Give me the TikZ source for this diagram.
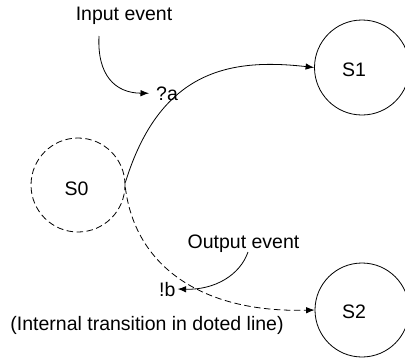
\documentclass[tikz,border=0pt]{standalone}
\usepackage{fontspec}
\setmainfont{Liberation Sans}
\usetikzlibrary{arrows.meta}
\begin{document}
\begin{tikzpicture}[x=1pt,y=-1pt,
  every node/.style={font=\fontsize{19.5pt}{23pt}\selectfont},
  state/.style={draw,circle,line width=0.8pt,minimum size=94pt,inner sep=0pt},
  dstate/.style={state,dash pattern=on 6.5pt off 3.5pt},
  lbl/.style={inner sep=2pt},
  conn/.style={line width=0.8pt,-{Latex[length=8.5pt,width=6.5pt]}},
  dconn/.style={conn,dash pattern=on 6.5pt off 3.5pt}]
\useasboundingbox (0,0) rectangle (405,359);
% states
\node[dstate] (S0) at (78,185) {};
\node[state,minimum size=95pt] (S1) at (362,67.5) {};
\node[state] (S2) at (362,310) {};
\node[lbl] (S0t) at (76.5,189) {S0};
\node[lbl] (S1t) at (354,70) {S1};
\node[lbl] (S2t) at (354,311.5) {S2};
% labels
\node[lbl,anchor=base] (ie) at (124,20.5) {Input event};
\node[lbl,anchor=base west] (qa) at (154,100) {?a};
\node[lbl,anchor=base] (oe) at (243.5,248) {Output event};
\node[lbl,anchor=base west] (nb) at (157,296) {!b};
\node[lbl,anchor=base] (it) at (147,330) {(Internal transition in doted line)};
\coordinate (iestart) at (99,36);
\coordinate (oestart) at (248,252);
% transitions
\draw[conn] (S0.3) .. controls (160,70) and (230,58) .. (S1.west);
\draw[dconn] (S0.-3) .. controls (135,265) and (200,313) .. (S2.west);
% annotation arrows
\draw[conn,shorten >=5pt] (iestart) .. controls (97,75) and (115,93) .. (qa.west);
\draw[conn] (oestart) .. controls (240,275) and (215,290) .. (nb.east);
\end{tikzpicture}
\end{document}
